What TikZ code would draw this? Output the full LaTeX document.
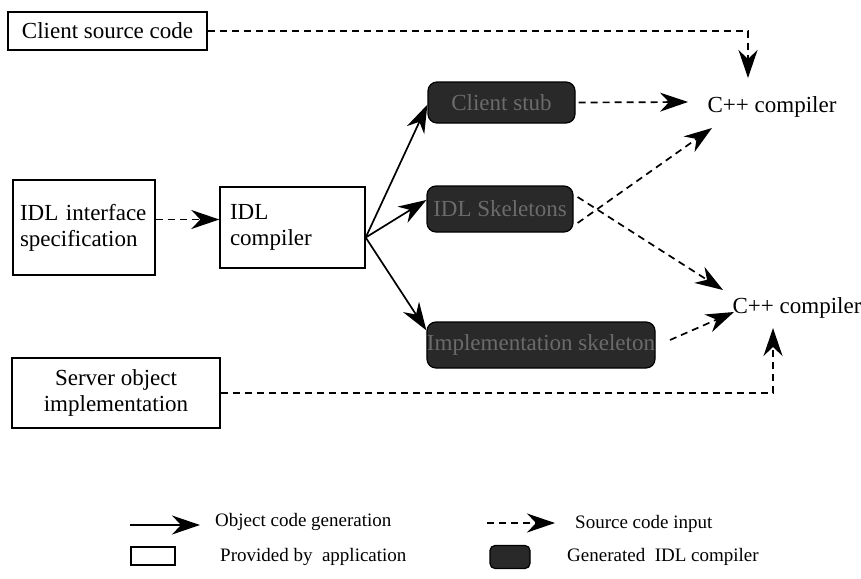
\documentclass[tikz,border=0pt]{standalone}
\usepackage{fontspec}
\setmainfont{Liberation Serif}
\usetikzlibrary{arrows.meta}
\begin{document}
\begin{tikzpicture}[x=1pt,y=-1pt,
  every node/.style={font=\rmfamily\fontsize{23}{26}\selectfont},
  appbox/.style={draw, line width=1.4pt, rectangle, inner sep=0pt},
  genbox/.style={draw=black, line width=1.2pt, fill=black!84, rounded corners=9pt,
    inner sep=0pt, text=black!58},
  lbl/.style={inner sep=2pt},
  legend/.style={inner sep=0pt, anchor=west, font=\rmfamily\fontsize{19}{22}\selectfont},
  bighead/.style={-{Stealth[length=28pt,width=19pt,inset=9pt]}},
  solidarrow/.style={bighead, line width=1.7pt},
  dasharrow/.style={bighead, line width=1.7pt, dash pattern=on 7pt off 5pt}]
\useasboundingbox (0,0) rectangle (861,578);

% application-provided sources
\node[appbox, minimum width=199pt, minimum height=38pt] (client) at (107.5,31) {Client source code};
\node[appbox, minimum width=142pt, minimum height=95pt, text width=128pt, align=left] (idlspec) at (84,227.5) {IDL interface\\specification};
\node[appbox, minimum width=145pt, minimum height=81pt, text width=125pt, align=left] (idlc) at (292.5,227.5) {IDL\\compiler};
\node[appbox, minimum width=208pt, minimum height=70pt, align=center] (server) at (116,393) {Server object\\implementation};

% generated by the IDL compiler
\node[genbox, minimum width=147pt, minimum height=41pt] (stub) at (501.5,102.5) {Client stub};
\node[genbox, minimum width=146pt, minimum height=46pt] (skel) at (500,209) {IDL Skeletons};
\node[genbox, minimum width=228pt, minimum height=46pt] (impl) at (541,345) {Implementation skeleton};

% compilers
\node[lbl] (cpp1) at (772,107) {C++ compiler};
\node[lbl] (cpp2) at (797,308) {C++ compiler};

% arrow tips in front of the compilers
\coordinate (t0) at (748,78);
\coordinate (t1) at (688,102);
\coordinate (t2) at (712,128);
\coordinate (t3) at (723,290);
\coordinate (t4) at (734,312);
\coordinate (t5) at (773,328);
\coordinate (s1) at (670,340);

% source code inputs
\draw[dasharrow] (client.east) -| (t0);
\draw[dasharrow] (stub.east) ++(3,0) -- (t1);
\draw[dasharrow] ([yshift=-14pt]skel.east) ++(4,0) -- (t2);
\draw[dasharrow] ([yshift=12pt]skel.east) ++(4,0) -- (t3);
\draw[dasharrow] (s1) -- (t4);
\draw[dasharrow] (server.east) -| (t5);
\draw[dasharrow] ([yshift=8pt]idlspec.east) -- ([yshift=8pt]idlc.west);

% object code generation
\draw[solidarrow] ([yshift=-10pt]idlc.east) -- ([yshift=19pt]stub.south west);
\draw[solidarrow] ([yshift=-10pt]idlc.east) -- ([yshift=9pt]skel.west);
\draw[solidarrow] ([yshift=-10pt]idlc.east) -- ([yshift=-9pt]impl.north west);

% legend
\coordinate (la) at (130,525);
\coordinate (lb) at (200,525);
\draw[solidarrow] (la) -- (lb);
\node[legend] (l1) at (215,522) {Object code generation};
\node[appbox, minimum width=44pt, minimum height=18pt] (lbox) at (153,556) {};
\node[legend] (l2) at (220,557) {Provided by\ \ application};
\coordinate (lc) at (487,523);
\coordinate (ld) at (555,523);
\draw[dasharrow] (lc) -- (ld);
\node[legend] (l3) at (575,524) {Source code input};
\node[genbox, rounded corners=5pt, minimum width=40pt, minimum height=23pt] (ldark) at (510,557) {};
\node[legend] (l4) at (567,557) {Generated\ \ IDL compiler};
\end{tikzpicture}
\end{document}
